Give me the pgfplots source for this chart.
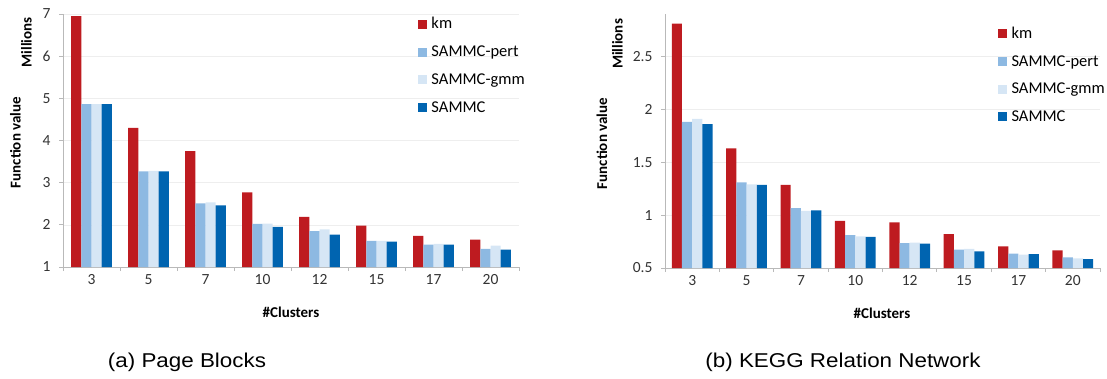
\documentclass[border=0pt]{standalone}
\usepackage{fontspec}
\setmainfont{Carlito}
\newfontfamily\capfont{Liberation Sans}
\usepackage{graphicx}
\usepackage{pgfplots}
\pgfplotsset{compat=1.18}

\definecolor{kmred}{RGB}{190,27,32}
\definecolor{pert}{RGB}{141,185,226}
\definecolor{gmm}{RGB}{214,230,245}
\definecolor{sammc}{RGB}{0,100,176}
\definecolor{axisgray}{RGB}{185,185,185}
\definecolor{gridgray}{RGB}{238,238,238}

\pgfplotstableread{
x km pert gmm sammc
0 6.95 4.86 4.86 4.86
1 4.30 3.27 3.28 3.27
2 3.75 2.51 2.53 2.46
3 2.77 2.02 2.03 1.95
4 2.19 1.85 1.89 1.77
5 1.98 1.62 1.62 1.60
6 1.74 1.53 1.55 1.53
7 1.65 1.43 1.51 1.41
}\pageblocks

\pgfplotstableread{
x km pert gmm sammc
0 2.81 1.88 1.91 1.86
1 1.63 1.31 1.29 1.285
2 1.285 1.065 1.04 1.045
3 0.946 0.81 0.80 0.795
4 0.93 0.735 0.74 0.73
5 0.82 0.673 0.68 0.657
6 0.704 0.635 0.626 0.63
7 0.666 0.60 0.59 0.585
}\kegg

\pgfplotsset{
  mybars/.style={
    scale only axis,
    ybar=0pt,
    bar width=10.2pt,
    xmin=-0.5, xmax=7.5,
    xtick={-0.5,0.5,...,7.5},
    xticklabels={3,5,7,10,12,15,17,20,{}},
    axis x line*=bottom,
    axis y line*=left,
    axis line style={-, draw=axisgray, line width=0.8pt},
    tick style={draw=axisgray, line width=0.8pt},
    tick align=outside,
    major tick length=4pt,
    ymajorgrids,
    major grid style={draw=gridgray, line width=0.6pt},
    ticklabel style={font=\fontsize{15.5}{18}\selectfont, text=black!80},
    yticklabel style={xshift=-5pt},
    /pgf/number format/assume math mode=true,
    legend cell align=left,
    legend style={draw=none, fill=none, font=\fontsize{16.5}{19}\selectfont,
      row sep=12.5pt, column sep=3pt, inner sep=0pt, outer sep=0pt,
      nodes={inner sep=1.5pt}},
    area legend,
    legend image code/.code={\fill[##1] (0pt,-4.5pt) rectangle (9pt,4.5pt);},
  },
}

\begin{document}
\begin{tikzpicture}
\path[use as bounding box] (0pt,0pt) rectangle (1107pt,-378pt);

% ---------- (a) Page Blocks ----------
\begin{axis}[mybars,
  at={(63pt,-267pt)}, anchor=south west,
  width=456pt, height=253pt,
  ymin=1, ymax=7, ytick={1,2,...,7},
  xticklabel style={xshift=28.5pt},
  legend style={at={(rel axis cs:0.7785,0.992)}, anchor=north west},
]
\addplot[draw=none, fill=kmred] table[x=x,y=km]{\pageblocks};
\addplot[draw=none, fill=pert] table[x=x,y=pert]{\pageblocks};
\addplot[draw=none, fill=gmm] table[x=x,y=gmm]{\pageblocks};
\addplot[draw=none, fill=sammc] table[x=x,y=sammc]{\pageblocks};
\legend{km,SAMMC-pert,SAMMC-gmm,SAMMC}
\end{axis}

% ---------- (b) KEGG ----------
\begin{axis}[mybars,
  at={(665pt,-268pt)}, anchor=south west,
  width=435pt, height=254pt,
  ymin=0.5, ymax=2.9, ytick={0.5,1,1.5,2,2.5},
  yticklabel style={/pgf/number format/fixed, /pgf/number format/precision=1},
  xticklabel style={xshift=27.2pt},
  legend style={at={(rel axis cs:0.7655,0.955)}, anchor=north west},
]
\addplot[draw=none, fill=kmred] table[x=x,y=km]{\kegg};
\addplot[draw=none, fill=pert] table[x=x,y=pert]{\kegg};
\addplot[draw=none, fill=gmm] table[x=x,y=gmm]{\kegg};
\addplot[draw=none, fill=sammc] table[x=x,y=sammc]{\kegg};
\legend{km,SAMMC-pert,SAMMC-gmm,SAMMC}
\end{axis}

% ---------- labels ----------
\begin{scope}[every node/.style={font=\bfseries\fontsize{15}{18}\selectfont, inner sep=0pt}]
\node[rotate=90] at (15.5pt,-142.5pt) {Function value};
\node[rotate=90] at (26.5pt,-42.5pt) {Millions};
\node at (291pt,-312pt) {\#Clusters};
\node[rotate=90] at (602pt,-143.5pt) {Function value};
\node[rotate=90] at (617.5pt,-44pt) {Millions};
\node at (882pt,-313pt) {\#Clusters};
\end{scope}
\node[font=\capfont\fontsize{20}{24}\selectfont, inner sep=0pt] at (187pt,-362pt) {\scalebox{1.12}[1]{(a) Page Blocks}};
\node[font=\capfont\fontsize{20}{24}\selectfont, inner sep=0pt] at (843pt,-362pt) {\scalebox{1.12}[1]{(b) KEGG Relation Network}};
\end{tikzpicture}
\end{document}
